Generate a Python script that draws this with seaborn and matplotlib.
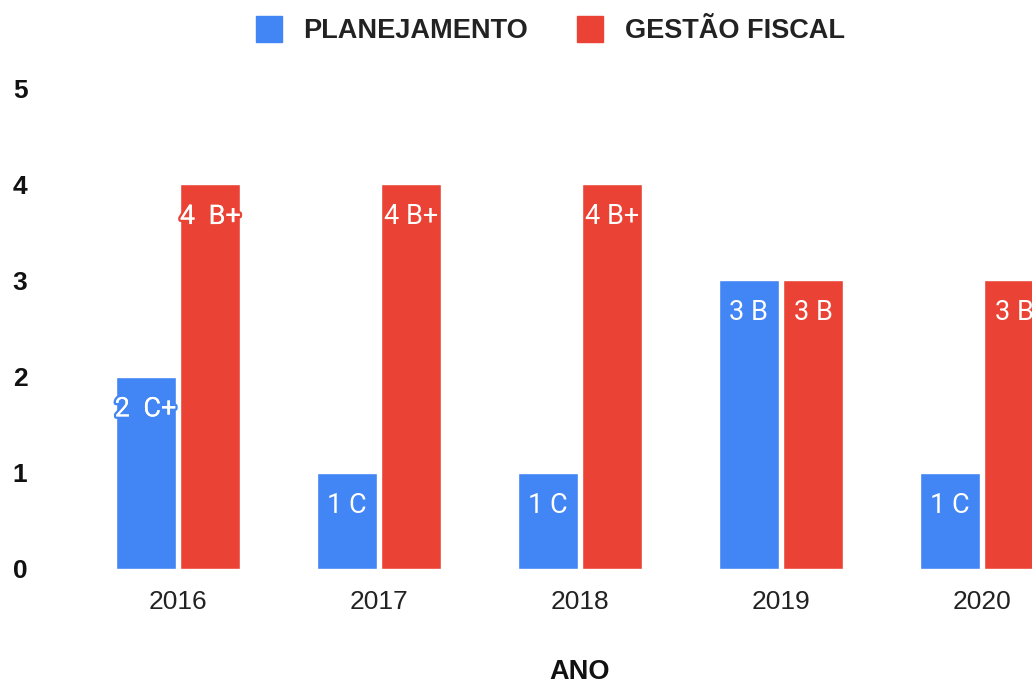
import matplotlib
matplotlib.use("Agg")
import matplotlib.pyplot as plt
import matplotlib.patheffects as pe
from matplotlib.lines import Line2D
import seaborn as sns
import pandas as pd

anos = ["2016", "2017", "2018", "2019", "2020"]
planejamento = [2, 1, 1, 3, 1]
gestao_fiscal = [4, 4, 4, 3, 3]
rot_planejamento = ["2  C+", "1 C", "1 C", "3 B", "1 C"]
rot_gestao = ["4  B+", "4 B+", "4 B+", "3 B", "3 B"]
series = ["PLANEJAMENTO", "GESTÃO FISCAL"]
cores = ["#4285F4", "#EA4335"]

df = pd.DataFrame({
    "ANO": anos * 2,
    "valor": planejamento + gestao_fiscal,
    "serie": [series[0]] * len(anos) + [series[1]] * len(anos),
})

sns.set_style("white")
plt.rcParams["font.family"] = ["Roboto", "DejaVu Sans"]
ARIAL = ["Liberation Sans", "DejaVu Sans"]

fig = plt.figure(figsize=(10.32, 6.84), dpi=100)
ax = fig.add_axes([77.5 / 1032, 115 / 684, 1005 / 1032, 481 / 684])

sns.barplot(data=df, x="ANO", y="valor", hue="serie", order=anos,
            hue_order=series, palette=cores, width=0.645, gap=0.075,
            saturation=1, ax=ax, legend=False)

ax.set_xlim(-0.5, 4.5)
ax.set_ylim(0, 5)
ax.set_yticks(range(0, 6))
for s in ax.spines.values():
    s.set_visible(False)
ax.tick_params(axis="y", length=0, pad=36, labelsize=19, labelcolor="#111111")
ax.tick_params(axis="x", length=0, pad=15, labelsize=19, labelcolor="#222222")
for t in ax.get_yticklabels():
    t.set_fontweight("bold")
    t.set_family(ARIAL)
for t in ax.get_xticklabels():
    t.set_family(ARIAL)
ax.set_xlabel("")
ax.set_ylabel("")
ax.grid(False)

for cont, rots in zip(ax.containers, [rot_planejamento, rot_gestao]):
    anns = ax.bar_label(cont, labels=rots, padding=-33, color="white",
                        fontsize=19.5)
    col = cont.patches[0].get_facecolor()
    for ann, r in zip(anns, rots):
        if "  " in r:
            ann.set_path_effects([
                pe.withStroke(linewidth=3.5, foreground=col),
                pe.Normal(),
            ])

fig.text(580 / 1032, 1 - 672 / 684, "ANO", ha="center", va="center",
         fontsize=19.5, fontweight="bold", family=ARIAL, color="#111111")

handles = [Line2D([], [], marker="s", linestyle="none", markersize=19,
                  markerfacecolor=c, markeredgecolor=c) for c in cores]
leg = fig.legend(handles, series, loc="center", bbox_to_anchor=(550 / 1032, 1 - 31 / 684),
                 ncol=2, frameon=False, handlelength=1.0, handletextpad=0.78,
                 columnspacing=1.78, prop={"size": 19.5, "weight": "bold", "family": ARIAL})
for t in leg.get_texts():
    t.set_color("#222222")

fig.savefig("out.png", dpi=100)
